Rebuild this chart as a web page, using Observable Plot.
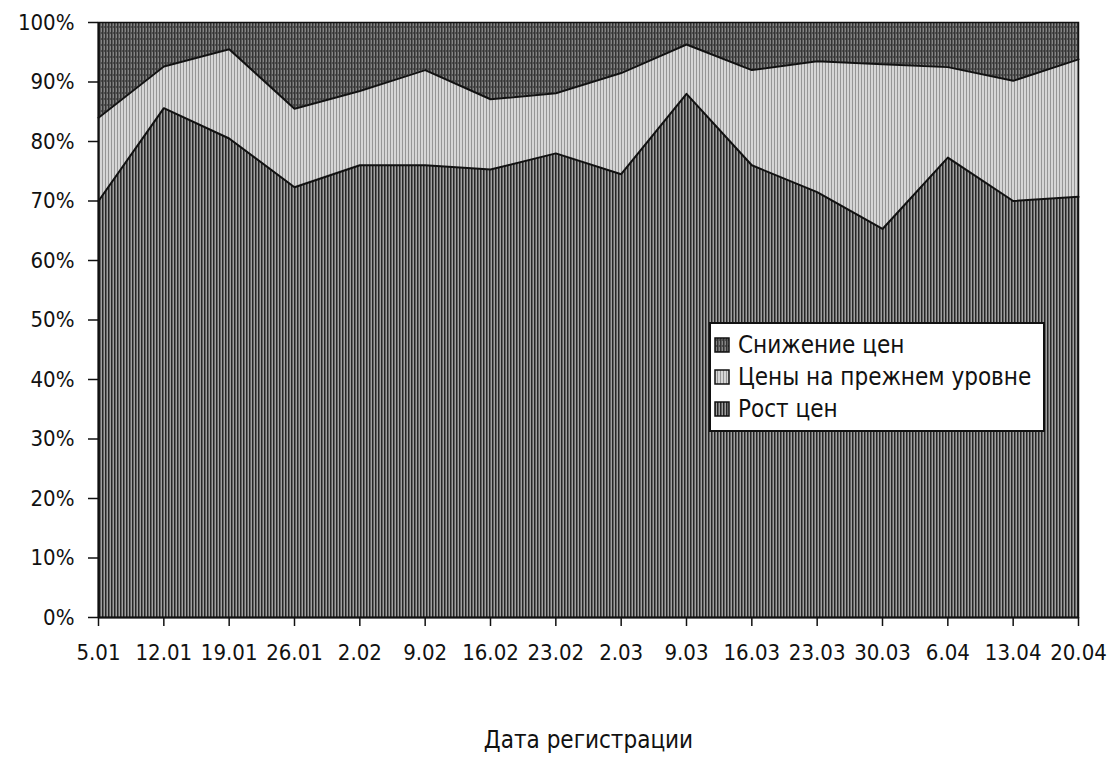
<!DOCTYPE html>
<html>
<head>
<meta charset="utf-8">
<script src="https://cdn.jsdelivr.net/npm/d3@7"></script>
<script src="https://cdn.jsdelivr.net/npm/@observablehq/plot@0.6"></script>
<style>
  html, body { margin: 0; padding: 0; background: #fff; }
  #wrap { position: relative; width: 1116px; height: 760px; font-family: "DejaVu Sans Condensed", "DejaVu Sans", sans-serif; }
  #legend { position: absolute; left: 709px; top: 322px; width: 336px; height: 110px; background: #fff; border: 2px solid #111; box-sizing: border-box; padding-top: 5px; }
  .item { display: flex; align-items: center; height: 32px; font-size: 24px; color: #111; white-space: nowrap; }
  .item svg { margin: 0 8px 0 3px; }
</style>
</head>
<body>
<div id="wrap"></div>
<script>
// Data (percent)
const dates = ["5.01","12.01","19.01","26.01","2.02","9.02","16.02","23.02","2.03","9.03","16.03","23.03","30.03","6.04","13.04","20.04"];
const seriesNames = ["Рост цен", "Цены на прежнем уровне", "Снижение цен"];
const rise = [70, 85.6, 80.5, 72.3, 76, 76, 75.3, 78, 74.5, 88, 76, 71.5, 65.3, 77.3, 70, 70.7];
const same = [14, 7, 15, 13.2, 12.5, 16, 11.8, 10.1, 17, 8.3, 16, 22, 27.7, 15.2, 20.2, 23.1];
const fall = [16, 7.4, 4.5, 14.5, 11.5, 8, 12.9, 11.9, 8.5, 3.7, 8, 6.5, 7, 7.5, 9.8, 6.2];
const yTicks = [0, 10, 20, 30, 40, 50, 60, 70, 80, 90, 100];
const legendOrder = ["Снижение цен", "Цены на прежнем уровне", "Рост цен"];
const patternIds = ["pRise", "pSame", "pFall"];

const rows = [];
dates.forEach((d, i) => {
  rows.push({i, series: seriesNames[0], value: rise[i]});
  rows.push({i, series: seriesNames[1], value: same[i]});
  rows.push({i, series: seriesNames[2], value: fall[i]});
});

const font = "DejaVu Sans Condensed";
const chart = Plot.plot({
  width: 1116,
  height: 760,
  marginTop: 22,
  marginBottom: 143,
  marginLeft: 98,
  marginRight: 38,
  style: {fontFamily: font, fontSize: "22px", color: "#111", background: "#fff"},
  x: {domain: [0, dates.length - 1]},
  y: {domain: [0, 100]},
  color: {domain: seriesNames, range: patternIds.map(id => `url(#${id})`)},
  marks: [
    Plot.areaY(rows, {x: "i", y: "value", z: "series", fill: "series"}),
    Plot.lineY(rows, Plot.stackY2({x: "i", y: "value", z: "series", stroke: "#111", strokeWidth: 2, filter: d => d.series !== "Снижение цен"})),
    Plot.frame({stroke: "#111", strokeWidth: 1.5}),
    Plot.axisY({ticks: yTicks, tickFormat: d => d + "%", tickSize: 10, tickPadding: 14, label: null, stroke: "#111", strokeWidth: 1.5, fontSize: 22}),
    Plot.axisX({ticks: d3.range(dates.length), tickFormat: i => dates[i], tickSize: 9, tickPadding: 18, label: null, stroke: "#111", strokeWidth: 1.5, fontSize: 22}),
    Plot.axisX({ticks: [], label: "Дата регистрации", labelAnchor: "center", labelArrow: "none", labelOffset: 130, fontSize: 24, tickSize: 0}),
    Plot.ruleX([0], {stroke: "#111", strokeWidth: 2}),
    Plot.ruleY([0], {stroke: "#111", strokeWidth: 2})
  ]
});

// textured fills (scan-like stripes)
const defs = d3.select(chart).insert("defs", ":first-child");
function pattern(id, bg, fg, w, lw) {
  const p = defs.append("pattern").attr("id", id).attr("patternUnits", "userSpaceOnUse").attr("width", w).attr("height", 6);
  p.append("rect").attr("width", w).attr("height", 6).attr("fill", bg);
  p.append("rect").attr("width", lw).attr("height", 6).attr("fill", fg);
  return p;
}
pattern("pRise", "#a0a0a0", "#262626", 3, 1.5);
pattern("pSame", "#d6d6d6", "#969696", 3, 1);
const pf = pattern("pFall", "#858585", "#333333", 3, 1.5);
pf.append("rect").attr("x", 1.5).attr("y", 2).attr("width", 1.5).attr("height", 2).attr("fill", "#505050");

const wrap = document.getElementById("wrap");
wrap.appendChild(chart);

// legend overlay
const leg = document.createElement("div");
leg.id = "legend";
legendOrder.forEach(name => {
  const k = seriesNames.indexOf(name);
  const it = document.createElement("div");
  it.className = "item";
  it.innerHTML = `<svg width="16" height="16"><rect x="1" y="1" width="14" height="14" fill="url(#${patternIds[k]})" stroke="#111" stroke-width="1.5"/></svg><span>${name}</span>`;
  leg.appendChild(it);
});
wrap.appendChild(leg);
</script>
</body>
</html>
